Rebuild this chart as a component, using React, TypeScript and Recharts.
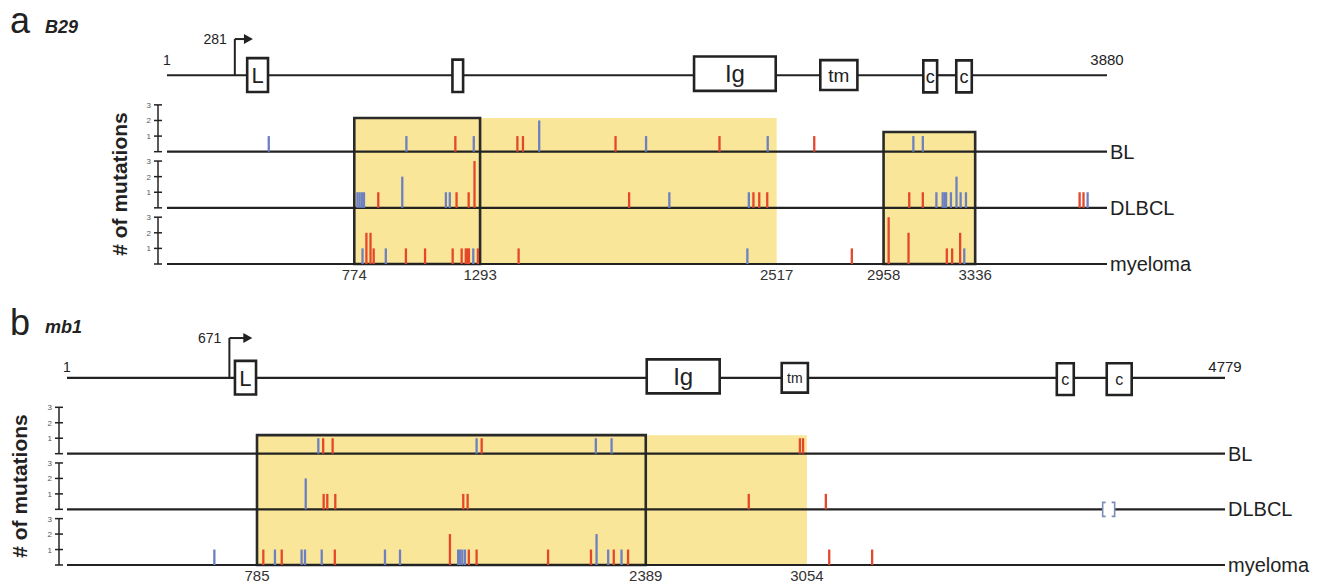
import React from 'react';
import {
  ComposedChart,
  XAxis,
  YAxis,
  Scatter,
  ErrorBar,
  ReferenceLine,
  ReferenceArea,
  ReferenceDot,
} from 'recharts';

const FONT = '"Liberation Sans", Arial, Helvetica, sans-serif';
const RED = '#E4472B';
const BLUE = '#6C80C2';
const YELLOW = '#FAE699';
const INK = '#222';

// tracks from the bottom up
const TRACK_NAMES = ['myeloma', 'DLBCL', 'BL'];
const TRACK_BASE = [0, 3.6, 7.2];
const GENE_Y = 12.1;

type Mut = [number, number, 'r' | 'b']; // position (bp), # of mutations, red/blue

// ---- a: B29 ----
const A_LEN = 3880;
const A_TSS = 281;
const A_EXON_LABELS = ['L', '', 'Ig', 'tm', 'c', 'c'];
const A_EXON_START = [332, 1179, 2176, 2697, 3122, 3258];
const A_EXON_END = [418, 1223, 2513, 2850, 3179, 3322];
const A_TICKS = [774, 1293, 2517, 2958, 3336];
const A_SHADED: [number, number][] = [[774, 2517], [2958, 3336]];
const A_BOXES: [number, number][] = [[774, 1293], [2958, 3336]];

const A_BL: Mut[] = [
  [421, 1, 'b'], [989, 1, 'b'], [1191, 1, 'r'], [1267, 1, 'b'], [1447, 1, 'r'], [1470, 1, 'r'],
  [1537, 2, 'b'], [1852, 1, 'r'], [1978, 1, 'b'], [2281, 1, 'r'], [2480, 1, 'b'], [2672, 1, 'r'],
  [3081, 1, 'b'], [3120, 1, 'b'],
];
const A_DLBCL: Mut[] = [
  [787, 1, 'b'], [796, 1, 'b'], [805, 1, 'b'], [814, 1, 'b'], [873, 1, 'r'], [972, 2, 'b'],
  [1152, 1, 'b'], [1168, 1, 'b'], [1196, 1, 'r'], [1246, 1, 'r'], [1270, 3, 'r'], [1908, 1, 'r'],
  [2074, 1, 'b'], [2402, 1, 'b'], [2421, 1, 'r'], [2445, 1, 'r'], [2478, 1, 'r'], [3064, 1, 'r'],
  [3120, 1, 'r'], [3176, 1, 'b'], [3202, 1, 'b'], [3210, 1, 'b'], [3216, 1, 'b'], [3236, 1, 'b'],
  [3259, 2, 'b'], [3276, 1, 'b'], [3298, 1, 'b'], [3767, 1, 'r'], [3783, 1, 'r'], [3800, 1, 'b'],
];
const A_MYELOMA: Mut[] = [
  [808, 1, 'b'], [824, 2, 'r'], [841, 2, 'r'], [854, 1, 'r'], [904, 1, 'b'], [987, 1, 'r'],
  [1066, 1, 'r'], [1180, 1, 'r'], [1217, 1, 'r'], [1234, 1, 'r'], [1241, 1, 'r'], [1247, 1, 'r'],
  [1265, 1, 'b'], [1284, 1, 'r'], [1452, 1, 'r'], [2396, 1, 'b'], [2827, 1, 'r'], [2979, 3, 'r'],
  [3061, 2, 'r'], [3219, 1, 'r'], [3241, 1, 'r'], [3274, 2, 'r'], [3291, 1, 'b'],
];

// ---- b: mb1 ----
const B_LEN = 4779;
const B_TSS = 671;
const B_EXON_LABELS = ['L', 'Ig', 'tm', 'c', 'c'];
const B_EXON_START = [694, 2393, 2950, 4085, 4291];
const B_EXON_END = [781, 2694, 3058, 4155, 4394];
const B_TICKS = [785, 2389, 3054];
const B_SHADED: [number, number][] = [[785, 3054]];
const B_BOXES: [number, number][] = [[785, 2389]];
const B_DELETION = 4299; // bracket mark on the DLBCL line

const B_BL: Mut[] = [
  [1038, 1, 'b'], [1058, 1, 'r'], [1097, 1, 'r'], [1691, 1, 'b'], [1712, 1, 'r'], [2183, 1, 'b'],
  [2248, 1, 'b'], [3025, 1, 'r'], [3038, 1, 'r'],
];
const B_DLBCL: Mut[] = [
  [986, 2, 'b'], [1060, 1, 'r'], [1075, 1, 'r'], [1108, 1, 'r'], [1636, 1, 'r'], [1654, 1, 'r'],
  [2814, 1, 'r'], [3132, 1, 'r'],
];
const B_MYELOMA: Mut[] = [
  [609, 1, 'b'], [811, 1, 'r'], [859, 1, 'b'], [887, 1, 'r'], [969, 1, 'b'], [983, 1, 'b'],
  [1052, 1, 'b'], [1106, 1, 'r'], [1313, 1, 'b'], [1375, 1, 'b'], [1581, 2, 'r'], [1615, 1, 'b'],
  [1622, 1, 'b'], [1632, 1, 'b'], [1643, 1, 'b'], [1659, 1, 'r'], [1691, 1, 'r'], [1986, 1, 'r'],
  [2163, 1, 'r'], [2186, 2, 'b'], [2234, 1, 'b'], [2257, 1, 'r'], [2289, 1, 'b'], [2316, 1, 'r'],
  [3146, 1, 'r'], [3323, 1, 'r'],
];

const NoShape = () => null;

const LevelTick = (props: any) => {
  const { x, y, payload } = props;
  const v = payload.value;
  const base = TRACK_BASE.reduce((acc, b) => (v >= b - 1e-6 ? b : acc), 0);
  const level = Math.round(v - base);
  return (
    <g>
      <line x1={x - 4} x2={x + 4} y1={y} y2={y} stroke={INK} strokeWidth={1.5} />
      {level > 0 && (
        <text x={x - 7} y={y + 3} textAnchor="end" fontSize={8} fill="#555" fontFamily={FONT}>
          {level}
        </text>
      )}
    </g>
  );
};

const Arrow = (props: any) => (
  <path d={`M${props.cx - 4},${props.cy - 5}L${props.cx + 5},${props.cy}L${props.cx - 4},${props.cy + 5}Z`} fill={INK} />
);

const Brackets = (props: any) => {
  const { cx, cy } = props;
  return (
    <g stroke="#7C8DB8" strokeWidth={1.6} fill="none">
      <rect x={cx - 6} y={cy - 8} width={12} height={16} fill="#fff" stroke="none" />
      <path d={`M${cx - 3},${cy - 7}H${cx - 6}V${cy + 7}H${cx - 3}`} />
      <path d={`M${cx + 3},${cy - 7}H${cx + 6}V${cy + 7}H${cx + 3}`} />
    </g>
  );
};

type Panel = {
  top: number;
  height: number;
  margin: { top: number; right: number; bottom: number; left: number };
  yw: number;
  rw: number;
  yMax: number;
  axisMin: number;
  len: number;
  tss: number;
  arrowEnd: number;
  promTop: number;
  exonLabels: string[];
  exonStart: number[];
  exonEnd: number[];
  exonFont: Record<string, number>;
  ticks: number[];
  shaded: [number, number][];
  shadeTop: number[];
  boxes: [number, number][];
  boxTop: number[];
  tracks: Mut[][];
  endOffset: number;
  deletion?: number;
};

const EXON_Y: Record<string, [number, number]> = {
  L: [11.03, 13.2],
  '': [11.03, 13.1],
  Ig: [11.1, 13.3],
  tm: [11.15, 13.07],
  c: [11.0, 13.05],
};

function GenePanel({ p }: { p: Panel }) {
  const levelTicks = TRACK_BASE.flatMap((b) => [b, b + 1, b + 2, b + 3]);
  const series: { key: string; color: string; data: { x: number; y: number; e: number }[] }[] = [];
  p.tracks.forEach((muts, i) => {
    (['r', 'b'] as const).forEach((kind) => {
      series.push({
        key: `${i}${kind}`,
        color: kind === 'r' ? RED : BLUE,
        data: muts
          .filter((m) => m[2] === kind)
          .map(([x, n]) => ({ x, y: TRACK_BASE[i] + n / 2, e: n / 2 })),
      });
    });
  });
  // gene line pieces between exons
  const cuts = [1, ...p.exonStart.flatMap((s, i) => [s, p.exonEnd[i]]), p.len];
  const pieces: [number, number][] = [];
  for (let i = 0; i < cuts.length; i += 2) pieces.push([cuts[i], cuts[i + 1]]);
  const txt = { fontFamily: FONT, fill: INK };

  return (
    <div style={{ position: 'absolute', left: 0, top: p.top }}>
      <ComposedChart width={1319} height={p.height} margin={p.margin}>
        <XAxis
          type="number"
          dataKey="x"
          domain={[p.axisMin, p.len]}
          allowDataOverflow
          ticks={p.ticks}
          interval={0}
          tickLine={false}
          axisLine={false}
          tickSize={4}
          tickMargin={1}
          height={20}
          tick={{ fontSize: 15, fill: '#333', fontFamily: FONT }}
        />
        <YAxis
          yAxisId="l"
          type="number"
          dataKey="y"
          domain={[0, p.yMax]}
          allowDataOverflow
          ticks={levelTicks}
          interval={0}
          width={p.yw}
          tick={<LevelTick />}
          tickLine={false}
          axisLine={false}
          tickSize={0}
          tickMargin={0}
        />
        <YAxis
          yAxisId="r"
          orientation="right"
          type="number"
          domain={[0, p.yMax]}
          allowDataOverflow
          ticks={TRACK_BASE}
          interval={0}
          width={p.rw}
          tickLine={false}
          axisLine={false}
          tickSize={0}
          tickMargin={3}
          tickFormatter={(v: number) => TRACK_NAMES[TRACK_BASE.indexOf(v)] ?? ''}
          tick={{ fontSize: 20, fill: INK, fontFamily: FONT }}
        />

        {p.shaded.map(([x1, x2], i) => (
          <ReferenceArea key={`s${i}`} yAxisId="l" x1={x1} x2={x2} y1={0} y2={p.shadeTop[i]} fill={YELLOW} fillOpacity={1} stroke="none" />
        ))}

        {TRACK_BASE.map((b) => (
          <ReferenceLine
            key={`base${b}`}
            yAxisId="l"
            segment={[{ x: 1, y: b }, { x: p.len, y: b }]}
            stroke={INK}
            strokeWidth={2.2}
            ifOverflow="visible"
          />
        ))}
        {TRACK_BASE.map((b) => (
          <ReferenceLine
            key={`ax${b}`}
            yAxisId="l"
            segment={[{ x: p.axisMin, y: b }, { x: p.axisMin, y: b + 3 }]}
            stroke={INK}
            strokeWidth={1.5}
            ifOverflow="visible"
          />
        ))}

        {pieces.map(([x1, x2], i) => (
          <ReferenceLine
            key={`g${i}`}
            yAxisId="l"
            segment={[{ x: x1, y: GENE_Y }, { x: x2, y: GENE_Y }]}
            stroke={INK}
            strokeWidth={2.2}
            ifOverflow="visible"
          />
        ))}
        {p.exonLabels.map((lab, i) => (
          <ReferenceArea
            key={`e${i}`}
            yAxisId="l"
            x1={p.exonStart[i]}
            x2={p.exonEnd[i]}
            y1={EXON_Y[lab][0]}
            y2={EXON_Y[lab][1]}
            fill="#fff"
            fillOpacity={1}
            stroke={INK}
            strokeWidth={2.6}
            label={lab ? { value: lab, position: 'center', fontSize: p.exonFont[lab], ...txt } : undefined}
          />
        ))}

        <ReferenceLine
          yAxisId="l"
          segment={[{ x: p.tss, y: GENE_Y }, { x: p.tss, y: p.promTop }]}
          stroke={INK}
          strokeWidth={2}
          ifOverflow="visible"
        />
        <ReferenceLine
          yAxisId="l"
          segment={[{ x: p.tss, y: p.promTop }, { x: p.arrowEnd, y: p.promTop }]}
          stroke={INK}
          strokeWidth={2}
          ifOverflow="visible"
        />
        <ReferenceDot yAxisId="l" x={p.arrowEnd} y={p.promTop} r={0} shape={Arrow} ifOverflow="visible" />
        <ReferenceDot
          yAxisId="l"
          x={p.tss}
          y={p.promTop}
          r={0}
          ifOverflow="visible"
          label={{ value: String(p.tss), position: 'left', offset: 8, fontSize: 14, ...txt }}
        />
        <ReferenceDot
          yAxisId="l"
          x={1}
          y={GENE_Y}
          r={0}
          ifOverflow="visible"
          label={{ value: '1', position: 'top', offset: p.endOffset, fontSize: 14, ...txt }}
        />
        <ReferenceDot
          yAxisId="l"
          x={p.len}
          y={GENE_Y}
          r={0}
          ifOverflow="visible"
          label={{ value: String(p.len), position: 'top', offset: p.endOffset, fontSize: 15, ...txt }}
        />
        {p.deletion !== undefined && (
          <ReferenceDot yAxisId="l" x={p.deletion} y={TRACK_BASE[1]} r={0} shape={Brackets} ifOverflow="visible" />
        )}

        {series.map((s) => (
          <Scatter key={s.key} yAxisId="l" data={s.data} dataKey="y" shape={NoShape} isAnimationActive={false}>
            <ErrorBar dataKey="e" direction="y" width={0} stroke={s.color} strokeWidth={2.3} isAnimationActive={false} />
          </Scatter>
        ))}

        {p.boxes.map(([x1, x2], i) => (
          <ReferenceArea
            key={`b${i}`}
            yAxisId="l"
            x1={x1}
            x2={x2}
            y1={0}
            y2={p.boxTop[i]}
            fill="none"
            fillOpacity={0}
            stroke="#2a2a2a"
            strokeWidth={2.6}
          />
        ))}
      </ComposedChart>
    </div>
  );
}

const PANEL_A: Panel = {
  top: 0,
  height: 289,
  margin: { top: 30, right: 92, bottom: 5, left: 98 },
  yw: 60,
  rw: 120,
  yMax: 15,
  axisMin: -36,
  len: A_LEN,
  tss: A_TSS,
  arrowEnd: 335,
  promTop: 14.42,
  exonLabels: A_EXON_LABELS,
  exonStart: A_EXON_START,
  exonEnd: A_EXON_END,
  exonFont: { L: 22, Ig: 24, tm: 19, c: 18 },
  ticks: A_TICKS,
  shaded: A_SHADED,
  shadeTop: [9.36, 8.46],
  boxes: A_BOXES,
  boxTop: [9.36, 8.46],
  tracks: [A_MYELOMA, A_DLBCL, A_BL],
  endOffset: 10,
};

const PANEL_B: Panel = {
  top: 310,
  height: 275,
  margin: { top: 20, right: 4, bottom: 0, left: 9 },
  yw: 50,
  rw: 90,
  yMax: 15.2,
  axisMin: -32,
  len: B_LEN,
  tss: B_TSS,
  arrowEnd: 745,
  promTop: 14.68,
  exonLabels: B_EXON_LABELS,
  exonStart: B_EXON_START,
  exonEnd: B_EXON_END,
  exonFont: { L: 22, Ig: 24, tm: 14, c: 16 },
  ticks: B_TICKS,
  shaded: B_SHADED,
  shadeTop: [8.4],
  boxes: B_BOXES,
  boxTop: [8.4],
  tracks: [B_MYELOMA, B_DLBCL, B_BL],
  endOffset: 6,
  deletion: B_DELETION,
};

const letter: React.CSSProperties = {
  position: 'absolute',
  fontFamily: FONT,
  fontSize: 36,
  lineHeight: 1,
  color: INK,
};
const gene: React.CSSProperties = {
  position: 'absolute',
  fontFamily: FONT,
  fontSize: 18,
  lineHeight: 1,
  fontWeight: 'bold',
  fontStyle: 'italic',
  color: INK,
};
const yTitle = (cx: number, cy: number): React.CSSProperties => ({
  position: 'absolute',
  left: cx,
  top: cy,
  transform: 'translate(-50%, -50%) rotate(-90deg)',
  fontFamily: FONT,
  fontSize: 21,
  fontWeight: 'bold',
  whiteSpace: 'nowrap',
  color: INK,
});

export default function App() {
  return (
    <div
      style={{
        position: 'absolute',
        left: 0,
        top: 0,
        width: 1319,
        height: 585,
        overflow: 'hidden',
        background: '#fff',
      }}
    >
      <GenePanel p={PANEL_A} />
      <GenePanel p={PANEL_B} />
      <div style={{ ...letter, left: 10, top: 3 }}>a</div>
      <div style={{ ...gene, left: 45, top: 18 }}>B29</div>
      <div style={{ ...letter, left: 10, top: 305 }}>b</div>
      <div style={{ ...gene, left: 45, top: 318 }}>mb1</div>
      <div style={yTitle(120, 184)}># of mutations</div>
      <div style={yTitle(20, 486)}># of mutations</div>
    </div>
  );
}
